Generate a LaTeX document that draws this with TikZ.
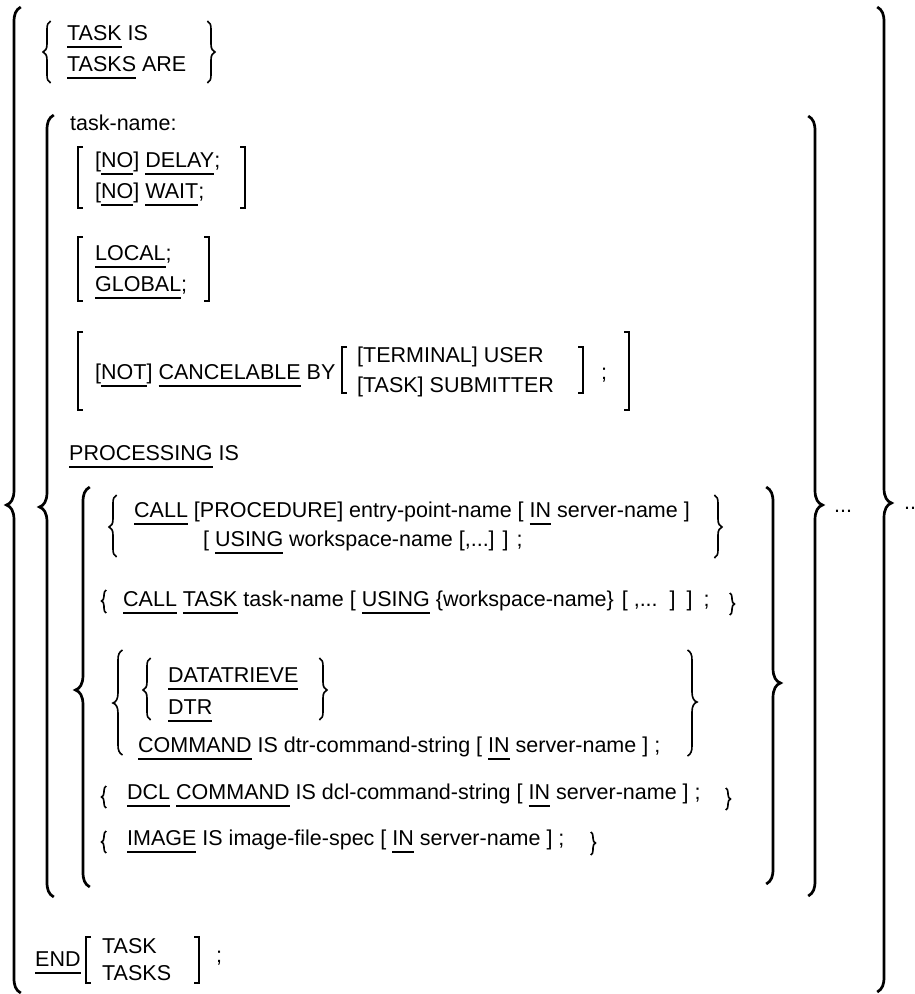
\documentclass[tikz,border=0pt]{standalone}
\usepackage{fontspec}
\setmainfont{Liberation Sans}
\usepackage{tikz}

% Subrayado de palabras clave
\newsavebox{\subcaja}
\newcommand{\subr}[1]{\sbox{\subcaja}{#1}\rlap{\rule[-7.5pt]{\wd\subcaja}{1.9pt}}\usebox{\subcaja}}

% Llaves: x, arriba, medio, abajo, tam
\newcommand{\llaveizq}[5]{%
  \draw ({#1+#5*0.45},#2) .. controls ({#1+#5*0.1},{#2+#5*0.2}) and (#1,{#2+#5*0.5}) .. (#1,{#2+#5})
    -- (#1,{#3-#5}) .. controls (#1,{#3-#5*0.4}) and ({#1-#5*0.2},{#3-#5*0.1}) .. ({#1-#5*0.5},#3)
    .. controls ({#1-#5*0.2},{#3+#5*0.1}) and (#1,{#3+#5*0.4}) .. (#1,{#3+#5})
    -- (#1,{#4-#5}) .. controls (#1,{#4-#5*0.5}) and ({#1+#5*0.1},{#4-#5*0.2}) .. ({#1+#5*0.45},#4);}
\newcommand{\llaveder}[5]{%
  \draw ({#1-#5*0.45},#2) .. controls ({#1-#5*0.1},{#2+#5*0.2}) and (#1,{#2+#5*0.5}) .. (#1,{#2+#5})
    -- (#1,{#3-#5}) .. controls (#1,{#3-#5*0.4}) and ({#1+#5*0.2},{#3-#5*0.1}) .. ({#1+#5*0.5},#3)
    .. controls ({#1+#5*0.2},{#3+#5*0.1}) and (#1,{#3+#5*0.4}) .. (#1,{#3+#5})
    -- (#1,{#4-#5}) .. controls (#1,{#4-#5*0.5}) and ({#1-#5*0.1},{#4-#5*0.2}) .. ({#1-#5*0.45},#4);}
% Corchetes: x, arriba, abajo
\newcommand{\corchizq}[3]{\draw[corchete] ({#1+5},#2) -- (#1,#2) -- (#1,#3) -- ({#1+5},#3);}
\newcommand{\corchder}[3]{\draw[corchete] ({#1-5},#2) -- (#1,#2) -- (#1,#3) -- ({#1-5},#3);}

\begin{document}
\begin{tikzpicture}[x=1pt,y=-1pt,
    font=\fontsize{21.5}{26}\selectfont,
    txt/.style={anchor=base west,inner sep=0pt},
    grande/.style={line width=2.7pt},
    chica/.style={line width=1.6pt},
    corchete/.style={line width=1.8pt}]
  \useasboundingbox (0,0) rectangle (915,994);

  % Llaves exteriores
  \begin{scope}[grande]
    \llaveizq{14}{7}{505}{993}{15}
    \llaveder{884}{7}{503}{992}{15}
    \llaveizq{47}{115}{507}{897}{15}
    \llaveder{815}{116}{505}{896}{15}
    \llaveizq{83}{487}{690}{887}{15}
    \llaveder{773}{487}{683}{884}{15}
  \end{scope}

  % TASK IS / TASKS ARE
  \node[txt] (taskis) at (67,40) {\subr{TASK} IS};
  \node[txt] (tasksare) at (67,71) {\subr{TASKS} ARE};
  \begin{scope}[chica]
    \llaveizq{47}{21}{52}{83}{8}
    \llaveder{211}{21}{52}{83}{8}
  \end{scope}

  % Atributos de la tarea
  \node[txt] (tname) at (70,130) {task-name:};
  \node[txt] (delay) at (95,167) {[\subr{NO}] \subr{DELAY};};
  \node[txt] (wait) at (95,198) {[\subr{NO}] \subr{WAIT};};
  \corchizq{78}{147}{208}
  \corchder{245}{147}{208}

  \node[txt] (local) at (95,260) {\subr{LOCAL};};
  \node[txt] (global) at (95,291) {\subr{GLOBAL};};
  \corchizq{78}{237}{301}
  \corchder{209}{237}{301}

  \node[txt] (cancel) at (95,379) {[\subr{NOT}] \subr{CANCELABLE} BY};
  \node[txt] (user) at (357,362) {[TERMINAL] USER};
  \node[txt] (submit) at (357,392) {[TASK] SUBMITTER};
  \node[txt] (pyc1) at (601,379) {;};
  \corchizq{78}{332}{410}
  \corchder{629}{332}{410}
  \corchizq{342}{347}{393}
  \corchder{583}{347}{393}

  \node[txt] (proc) at (69,460) {\subr{PROCESSING} IS};

  % Alternativas de procesamiento
  \node[txt] (call1) at (134,517) {\subr{CALL} [PROCEDURE] entry-point-name [ \subr{IN} server-name ]};
  \node[txt] (using1) at (203,546) {[ \subr{USING} workspace-name [,...] ] ;};
  \node[txt] (call2) at (123,606) {\subr{CALL} \subr{TASK} task-name [ \subr{USING} \{workspace-name\}\hspace{2pt} [ ,...\hspace{4pt} ]\hspace{3pt} ]\hspace{3pt} ;};
  \node[txt] (datat) at (168,682) {\subr{DATATRIEVE}};
  \node[txt] (dtr) at (168,714) {\subr{DTR}};
  \node[txt] (dtrcmd) at (138,752) {\subr{COMMAND} IS dtr-command-string [ \subr{IN} server-name ] ;};
  \node[txt] (dcl) at (127,799) {\subr{DCL} \subr{COMMAND} IS dcl-command-string [ \subr{IN} server-name ] ;};
  \node[txt] (image) at (127,845) {\subr{IMAGE} IS image-file-spec [ \subr{IN} server-name ] ;};
  \begin{scope}[chica]
    \llaveizq{113}{495}{527}{557}{8}
    \llaveder{718}{495}{527}{558}{8}
    \llaveizq{104}{590}{601}{613}{5}
    \llaveder{732}{593}{604}{615}{5}
    \llaveizq{118}{650}{703}{755}{10}
    \llaveder{692}{650}{702}{756}{10}
    \llaveizq{147}{658}{690}{720}{8}
    \llaveder{323}{658}{690}{720}{8}
    \llaveizq{104}{786}{797}{808}{5}
    \llaveder{728}{788}{799}{810}{5}
    \llaveizq{104}{831}{842}{853}{5}
    \llaveder{593}{832}{843}{855}{5}
  \end{scope}

  % Repeticiones
  \node[txt] (rep1) at (834,512) {...};
  \node[txt] (rep2) at (904,509) {...};

  % END
  \node[txt] (fin) at (35,966) {\subr{END}};
  \node[txt] (ftask) at (102,953) {TASK};
  \node[txt] (ftasks) at (102,980) {TASKS};
  \node[txt] (pyc2) at (216,962) {;};
  \corchizq{86}{937}{983}
  \corchder{199}{937}{983}
\end{tikzpicture}
\end{document}
